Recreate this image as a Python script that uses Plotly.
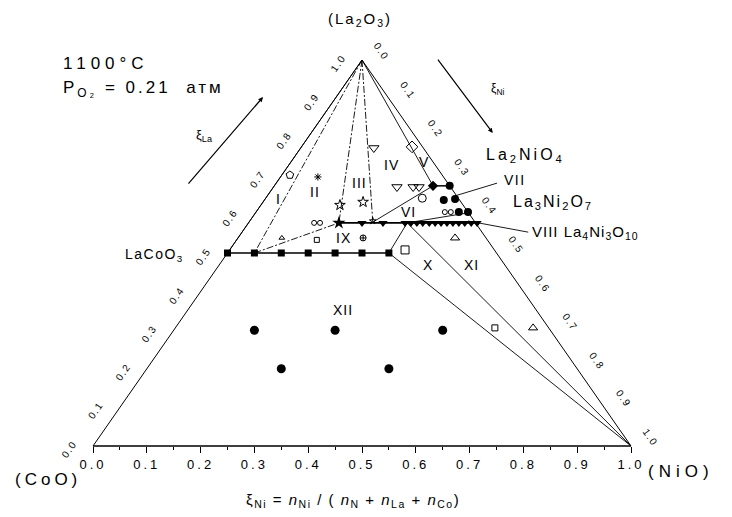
import plotly.graph_objects as go

# ---------------- data (x on the ξNi scale, y = ξLa) ----------------
apex = (0.5, 1.0)        # La2O3
coo = (0.0, 0.0)         # CoO
nio = (1.0, 0.0)         # NiO

# LaCo(1-x)NixO3 solid solution row
laco_x = [0.25, 0.30, 0.35, 0.40, 0.45, 0.50, 0.55]
laco_y = [0.5] * len(laco_x)

# La4(Ni,Co)3O10 row
la4_star = (0.457, 0.578)
la4_tri_x = [0.500, 0.539, 0.580, 0.591, 0.602, 0.613, 0.625, 0.636, 0.647,
             0.658, 0.669, 0.680, 0.691, 0.703, 0.714]
la4_tri_y = [0.578] * len(la4_tri_x)

# La2(Ni,Co)O4 row
la2_x = [0.632, 0.663]
la2_y = [0.674, 0.674]

# La3Ni2O7 region filled circles
la3_x = [0.652, 0.673, 0.680, 0.697]
la3_y = [0.637, 0.640, 0.606, 0.606]

# tie-line end points
P1 = (0.30, 0.5)
P7 = (0.55, 0.5)
Q1 = (0.457, 0.578)
Q2 = (0.520, 0.580)
Q3 = (0.584, 0.578)
L2a = (0.632, 0.674)
L2 = (0.663, 0.674)
La3 = (0.697, 0.604)
La4 = (0.714, 0.578)
LaCoO3 = (0.25, 0.5)

# XII samples
xii_x = [0.30, 0.45, 0.65, 0.35, 0.55]
xii_y = [0.30, 0.30, 0.30, 0.20, 0.20]

# open symbols (x, y, symbol, size)
open_pts = [
    (0.366, 0.702, 'pentagon-open', 8),
    (0.418, 0.697, 'asterisk-open', 6),
    (0.459, 0.624, 'star-open', 8),
    (0.502, 0.632, 'star-open', 8),
    (0.522, 0.772, 'triangle-down-open', 9),
    (0.593, 0.775, 'diamond-open', 9),
    (0.565, 0.671, 'triangle-down-open', 9),
    (0.595, 0.671, 'triangle-down-open', 9),
    (0.606, 0.671, 'triangle-down-open', 9),
    (0.612, 0.642, 'circle-open', 8),
    (0.654, 0.606, 'circle-open', 5),
    (0.665, 0.606, 'circle-open', 5),
    (0.411, 0.578, 'circle-open', 5),
    (0.422, 0.578, 'circle-open', 5),
    (0.351, 0.539, 'triangle-up-open', 5),
    (0.416, 0.534, 'square-open', 5),
    (0.502, 0.539, 'circle-cross-open', 6),
    (0.520, 0.583, 'star-open', 5),
    (0.580, 0.508, 'square-open', 8),
    (0.673, 0.539, 'triangle-up-open', 8),
    (0.747, 0.306, 'square-open', 6),
    (0.818, 0.306, 'triangle-up-open', 8),
]

tick_vals = [i / 10 for i in range(11)]
tick_text = ['%.1f' % v for v in tick_vals]
minor_vals = [0.05 + i / 10 for i in range(10)]

region_labels = [
    ('I', 0.344, 0.640), ('II', 0.413, 0.658), ('III', 0.496, 0.681),
    ('IV', 0.554, 0.728), ('V', 0.615, 0.736), ('VI', 0.586, 0.606),
    ('IX', 0.465, 0.539), ('X', 0.623, 0.469), ('XI', 0.703, 0.469),
    ('XII', 0.465, 0.352),
]

FONT = 'Liberation Sans, Arial, sans-serif'
# page body has an 8px margin; place the axes so the diagram lands where the reference has it
OX, OY = 93 - 8, 446 - 8      # screen pixel of (0, 0) minus page offset
SX, SY = 538, 386             # pixels per unit
fig = go.Figure()


def sp(s, ls):
    return '<span style="letter-spacing:%gpx">%s</span>' % (ls, s)


def seg(p, q, dash='solid', width=1.0):
    fig.add_trace(go.Scatter(x=[p[0], q[0]], y=[p[1], q[1]], mode='lines',
                             line=dict(color='black', width=width, dash=dash),
                             hoverinfo='skip', showlegend=False))


# triangle edges
seg(coo, apex, width=1.0)
seg(apex, nio, width=1.0)
seg(coo, nio, width=1.6)

# tie lines
DD = '7px,2px,2px,2px'
seg(apex, LaCoO3, width=0.9)
seg(apex, P1, dash=DD, width=0.9)
seg(P1, Q1, dash=DD, width=0.9)
seg(apex, Q1, dash=DD, width=0.9)
seg(apex, Q2, dash=DD, width=0.9)
seg(Q2, L2a, width=0.9)
seg(apex, L2a, width=0.9)
seg(La3, Q3, width=0.9)
seg(P7, Q3, width=0.9)
seg(P7, nio, width=0.9)
seg(Q3, nio, width=0.9)
# leader lines
seg((0.673, 0.648), (0.751, 0.681), width=0.9)
seg((0.697, 0.583), (0.809, 0.554), width=0.9)

# solid-solution rows
fig.add_trace(go.Scatter(x=laco_x, y=laco_y, mode='lines+markers',
                         line=dict(color='black', width=1.5),
                         marker=dict(symbol='square', size=7, color='black'),
                         hoverinfo='skip', showlegend=False))
fig.add_trace(go.Scatter(x=[Q1[0], La4[0]], y=[Q1[1], La4[1]], mode='lines',
                         line=dict(color='black', width=1.6),
                         hoverinfo='skip', showlegend=False))
fig.add_trace(go.Scatter(x=la4_tri_x, y=la4_tri_y, mode='markers',
                         marker=dict(symbol='triangle-down', size=8, color='black'),
                         hoverinfo='skip', showlegend=False))
fig.add_trace(go.Scatter(x=[la4_star[0]], y=[la4_star[1]], mode='markers',
                         marker=dict(symbol='star', size=10, color='black'),
                         hoverinfo='skip', showlegend=False))
fig.add_trace(go.Scatter(x=la2_x, y=la2_y, mode='lines+markers',
                         line=dict(color='black', width=1.5),
                         marker=dict(symbol=['diamond', 'circle'], size=8, color='black'),
                         hoverinfo='skip', showlegend=False))
fig.add_trace(go.Scatter(x=la3_x, y=la3_y, mode='markers',
                         marker=dict(symbol='circle', size=8, color='black'),
                         hoverinfo='skip', showlegend=False))
fig.add_trace(go.Scatter(x=xii_x, y=xii_y, mode='markers',
                         marker=dict(symbol='circle', size=9, color='black'),
                         hoverinfo='skip', showlegend=False))
for (x, y, s, sz) in open_pts:
    fig.add_trace(go.Scatter(x=[x], y=[y], mode='markers',
                             marker=dict(symbol=s, size=sz, color='black',
                                         line=dict(color='black', width=1)),
                             hoverinfo='skip', showlegend=False))

ann = []


def text(s, x, y, size=13, xanchor='center', angle=0):
    ann.append(dict(text=s, x=x, y=y, xref='x', yref='y', showarrow=False,
                    xanchor=xanchor, yanchor='middle', textangle=angle,
                    font=dict(family=FONT, size=size, color='black')))


# edge tick labels
for k in range(11):
    v = k / 10
    # left edge: ξLa
    text(sp('%.1f' % v, 1.5), v / 2 - 0.045, v - 0.009, size=10, angle=-55)
    # right edge: ξNi
    text(sp('%.1f' % v, 1.5), 0.5 + v / 2 + 0.036, 1 - v + 0.022, size=10, angle=55)

for (s, x, y) in region_labels:
    text(sp(s, 1), x, y, size=14)

text(sp('1100°C', 5), -0.059, 0.992, size=17, xanchor='left')
text(sp('P<sub>O₂</sub> = 0.21  атм', 3), -0.059, 0.925, size=17, xanchor='left')
text(sp('(La<sub>2</sub>O<sub>3</sub>)', 2), 0.496, 1.104, size=15)
text(sp('(CoO)', 4), -0.148, -0.088, size=17, xanchor='left')
text(sp('(NiO)', 5), 1.028, -0.067, size=17, xanchor='left')
text(sp('LaCoO<sub>3</sub>', 1.5), 0.172, 0.495, size=14, xanchor='right')
text(sp('La<sub>2</sub>NiO<sub>4</sub>', 3), 0.727, 0.752, size=16, xanchor='left')
text(sp('VII', 1.5), 0.760, 0.689, size=14, xanchor='left')
text(sp('La<sub>3</sub>Ni<sub>2</sub>O<sub>7</sub>', 2), 0.777, 0.630, size=16, xanchor='left')
text(sp('VIII La<sub>4</sub>Ni<sub>3</sub>O<sub>10</sub>', 1), 0.812, 0.554, size=15, xanchor='left')
text('ξ<sub>La</sub>', 0.208, 0.805, size=13)
text('ξ<sub>Ni</sub>', 0.752, 0.925, size=12)
text(sp('ξ<sub>Ni</sub> = <i>n</i><sub>Ni</sub> / ( <i>n</i><sub>N</sub> + <i>n</i><sub>La</sub> + <i>n</i><sub>Co</sub>)', 1.5),
     0.483, -0.140, size=15)

# composition arrows
for (tail, head) in [((0.175, 0.676), (0.316, 0.904)), ((0.639, 1.005), (0.743, 0.811))]:
    ann.append(dict(x=head[0], y=head[1], ax=tail[0], ay=tail[1], xref='x', yref='y',
                    axref='x', ayref='y', showarrow=True, text='', arrowhead=2,
                    arrowsize=0.8, arrowwidth=1.2, arrowcolor='black'))

fig.update_layout(
    width=732, height=517, margin=dict(l=0, r=0, t=0, b=0),
    paper_bgcolor='white', plot_bgcolor='white', showlegend=False,
    annotations=ann,
    xaxis=dict(range=[-OX / SX, (732 - OX) / SX], anchor='free', position=(517 - OY) / 517,
               showgrid=False, zeroline=False, showline=False,
               tickmode='array', tickvals=tick_vals,
               ticktext=[sp(t, 3) for t in tick_text],
               ticks='outside', ticklen=6, tickwidth=1.2, tickcolor='black',
               tickfont=dict(family=FONT, size=13, color='black'),
               minor=dict(tickmode='array', tickvals=minor_vals, ticks='outside',
                          ticklen=3, tickwidth=1, tickcolor='black', showgrid=False)),
    yaxis=dict(range=[(OY - 517) / SY, OY / SY], visible=False, showgrid=False, zeroline=False),
)

fig.write_html('out.html')
